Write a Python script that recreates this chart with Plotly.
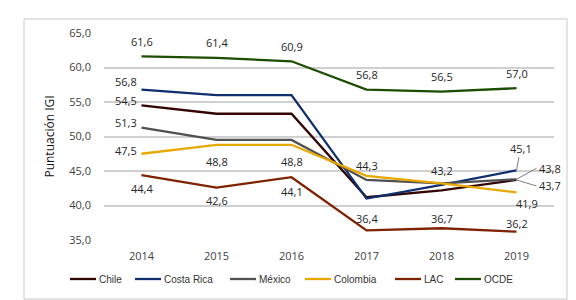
import plotly.graph_objects as go

years = ["2014", "2015", "2016", "2017", "2018", "2019"]
chile = [54.5, 53.3, 53.3, 41.2, 42.2, 43.7]
costa_rica = [56.8, 56.0, 56.0, 41.0, 43.0, 45.1]
mexico = [51.3, 49.5, 49.5, 43.7, 43.2, 43.8]
colombia = [47.5, 48.8, 48.8, 44.3, 43.2, 41.9]
lac = [44.4, 42.6, 44.1, 36.4, 36.7, 36.2]
ocde = [61.6, 61.4, 60.9, 56.8, 56.5, 57.0]
y_ticks = [35, 40, 45, 50, 55, 60, 65]

series = [
    ("Chile", chile, "#330404"),
    ("Costa Rica", costa_rica, "#0f2f6e"),
    ("México", mexico, "#505050"),
    ("Colombia", colombia, "#e8a800"),
    ("LAC", lac, "#7e2200"),
    ("OCDE", ocde, "#1c4d00"),
]

# layout geometry (pixels)
W, H = 576, 300
ML, MR, MT, MB = 96, 30, 25, 68
PW, PH = W - ML - MR, H - MT - MB

def px_x(px):
    return (px - ML) / PW

def px_y(py):
    return (H - MB - py) / PH

# legend entry start pixels (style only)
legend_x = [62, 127, 222, 297, 387, 447]
legend_y = 271
legend_len = 26

# which points get a data label, and how they are placed (style only)
label_spec = {
    "OCDE": {i: dict(yshift=15) for i in range(6)},
    "Costa Rica": {0: dict(xanchor="right", xshift=-3, yshift=8),
                   5: dict(arrow=(4, -22))},
    "Chile": {0: dict(xanchor="right", xshift=-3, yshift=5),
              5: dict(arrow=(20, 6))},
    "México": {0: dict(xanchor="right", xshift=-3, yshift=5),
               4: dict(yshift=13),
               5: dict(arrow=(20, -11))},
    "Colombia": {0: dict(xanchor="right", xshift=-3, yshift=3),
                 1: dict(yshift=-17), 2: dict(yshift=-17),
                 3: dict(yshift=10),
                 5: dict(yshift=-11, xshift=10)},
    "LAC": {0: dict(yshift=-13), 1: dict(yshift=-13), 2: dict(yshift=-14),
            3: dict(yshift=12), 4: dict(yshift=10), 5: dict(yshift=8)},
}

def fmt(v):
    return f"{v:.1f}".replace(".", ",")

fig = go.Figure()
for name, vals, col in series:
    fig.add_trace(go.Scatter(
        x=years, y=vals, name=name, mode="lines",
        line=dict(color=col, width=2.3),
        hoverinfo="skip", showlegend=False,
    ))

label_font = dict(family="Open Sans, sans-serif", size=11, color="#262626")
annotations = []
for name, vals, col in series:
    spec = label_spec.get(name, {})
    for i, s in spec.items():
        if "arrow" in s:
            ax, ay = s["arrow"]
            annotations.append(dict(
                x=i, y=vals[i], xref="x", yref="y",
                text=fmt(vals[i]), showarrow=True, arrowhead=0,
                arrowwidth=1, arrowcolor="#7f7f7f",
                ax=ax, ay=ay, xanchor="left" if ax > 10 else "center",
                font=label_font,
            ))
        else:
            annotations.append(dict(
                x=i, y=vals[i], xref="x", yref="y",
                text=fmt(vals[i]), showarrow=False,
                xanchor=s.get("xanchor", "center"), yanchor="middle",
                xshift=s.get("xshift", 0), yshift=s.get("yshift", 0),
                font=label_font,
            ))

# outer frame
shapes = [dict(type="rect", xref="paper", yref="paper",
               x0=px_x(16), x1=px_x(559), y0=px_y(291), y1=px_y(11),
               line=dict(color="#c8c8c8", width=1), fillcolor="rgba(0,0,0,0)")]

# custom legend
for (name, vals, col), lx in zip(series, legend_x):
    shapes.append(dict(type="line", xref="paper", yref="paper",
                       x0=px_x(lx), x1=px_x(lx + legend_len),
                       y0=px_y(legend_y), y1=px_y(legend_y),
                       line=dict(color=col, width=2.3)))
    annotations.append(dict(xref="paper", yref="paper",
                            x=px_x(lx + legend_len + 1), y=px_y(legend_y),
                            xanchor="left", yanchor="middle", showarrow=False,
                            text=name,
                            font=dict(family="Liberation Sans Narrow, Liberation Sans, sans-serif",
                                      size=10, color="#333333")))

fig.update_layout(
    width=W, height=H,
    margin=dict(l=ML, r=MR, t=MT, b=MB, autoexpand=False),
    paper_bgcolor="white", plot_bgcolor="white",
    font=dict(family="Open Sans, sans-serif", size=11, color="#404040"),
    showlegend=False,
    annotations=annotations,
    shapes=shapes,
    xaxis=dict(type="category", range=[-0.5, 5.5], showgrid=False, zeroline=False,
               showline=False, ticks="", ticklabelstandoff=8, automargin=False,
               tickfont=dict(size=11, color="#404040")),
    yaxis=dict(range=[35, 65], tickvals=y_ticks,
               ticktext=[fmt(v) for v in y_ticks],
               showgrid=True, gridcolor="#d0d0d0", gridwidth=1.5,
               zeroline=False, showline=False, ticks="", automargin=False,
               ticklabelstandoff=12,
               tickfont=dict(size=11, color="#404040"),
               title=dict(text="Puntuación IGI", standoff=12,
                          font=dict(size=12, color="#111111"))),
)

fig.write_html("out.html")
